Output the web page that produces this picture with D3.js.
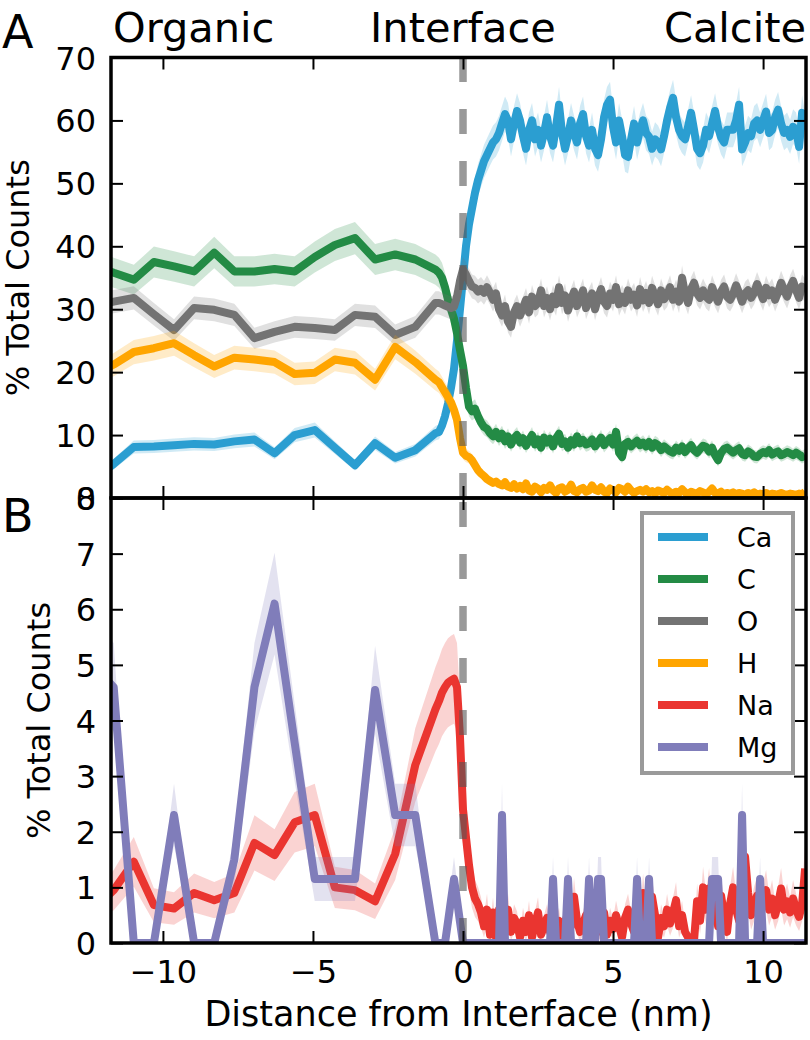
<!DOCTYPE html>
<html><head><meta charset="utf-8">
<script src="https://cdn.jsdelivr.net/npm/d3@7"></script>
<style>
body{margin:0;background:#fff}
svg text{font-family:"DejaVu Sans",sans-serif;fill:#000}
</style>
</head><body>
<svg id="c" width="810" height="1040"></svg>
<script>
// ---------- DATA ----------
const seriesNames = ["Ca", "C", "O", "H", "Na", "Mg"];
const seriesColors = ["#2b9ed1", "#238b45", "#737373", "#ffa500", "#ea3530", "#807dba"];
// relative (Poisson-like) error scale
const errK = [0.36, 0.4, 0.33, 0.4, 0.37, 0.37];

const xTickValues = [-10, -5, 0, 5, 10];
const yTicksA = [0, 10, 20, 30, 40, 50, 60, 70];
const yTicksB = [0, 1, 2, 3, 4, 5, 6, 7, 8];
const topLabels = ["Organic", "Interface", "Calcite"];

// coarse sampling on the organic side (nm)
const coarseX = [-12.31, -11.64, -10.97, -10.30, -9.63, -8.96, -8.29, -7.62, -6.95, -6.28, -5.61, -4.94, -4.27, -3.60, -2.93, -2.26, -1.59, -0.92];
// fine sampling grid from -0.8 to 11.4 nm, step 0.1
const fineX = d3.range(123).map(i => +(-0.8 + 0.1 * i).toFixed(1));

const caCoarse = [3.0, 5.4, 8.1, 8.2, 8.4, 8.6, 8.5, 9.0, 9.3, 7.1, 10.0, 10.8, 8.0, 5.2, 8.7, 6.4, 7.6, 10.3];
const cCoarse  = [37.0, 35.8, 34.7, 37.5, 36.8, 36.0, 39.0, 36.0, 36.0, 36.4, 36.0, 38.3, 40.2, 41.3, 37.9, 38.7, 37.9, 36.3];
const oCoarse  = [30.5, 31.2, 31.8, 29.2, 26.7, 30.2, 29.9, 29.1, 25.4, 26.4, 27.2, 27.0, 26.7, 29.1, 28.8, 25.9, 27.2, 31.0];
const hCoarse  = [19.5, 21.2, 23.2, 23.8, 24.6, 22.7, 20.9, 22.3, 22.0, 21.6, 19.7, 19.9, 22.0, 21.5, 18.8, 24.0, 21.6, 18.8];
const naCoarse = [0.6, 0.95, 1.46, 0.68, 0.62, 0.9, 0.77, 0.9, 1.8, 1.58, 2.17, 2.3, 1.0, 0.95, 0.75, 1.6, 3.2, 4.2];
const mgCoarse = [5.0, 4.6, 0, 0, 2.3, 0, 0, 1.5, 4.6, 6.1, 3.6, 1.15, 1.15, 1.15, 4.55, 2.3, 2.3, 0];

const caFine = [10.5, 11.5, 13, 15, 17.5, 20.5, 25, 30,
 35, 40, 43.5, 46, 48.5, 50.5, 52, 53.5, 54.5, 55.5,
 56.5, 57, 58, 59.5, 61, 60, 57, 59.5, 61.5, 60,
 57.5, 55.5, 58.5, 60, 57, 58.5, 56, 58, 60.5, 57.5,
 56, 59, 62.5, 58, 55.5, 57.5, 60, 58, 56.5, 59.5,
 61, 57.5, 56, 58.5, 55.5, 54.5, 57, 60.5, 62.5, 63.3,
 59, 56.5, 60, 57.5, 54.5, 54.2, 57, 59.5, 56.5, 58.5,
 60, 58, 57.4, 55.5, 57, 56.5, 55.4, 57.5, 60, 62,
 63.6, 60.5, 58.5, 57.5, 57, 59, 61.2, 58.5, 55.5, 54.8,
 56, 58.5, 57.5, 59.5, 61.5, 58.9, 57.3, 56.5, 58.5, 58.5,
 58.5, 60, 62.5, 55.4, 56.5, 58, 57.5, 59.5, 60, 58.5,
 60, 61.4, 58, 58.5, 60.5, 61.7, 59.5, 58, 58.5, 57.4,
 59, 58.5, 55.8, 61.2, 58.5];
const cFine = [35.8, 35, 33.5, 31.5, 30, 28.5, 26.2, 23.5,
 21, 17.5, 14.5, 13.8, 14.2, 13, 12, 11.3, 11, 10.3,
 9.8, 10.5, 9.5, 10.2, 9, 9.8, 8.5, 9.5, 10, 8.8,
 9.5, 8.3, 9.2, 10, 8.5, 9.3, 8, 9.6, 8.8, 9.4,
 8.2, 9.5, 10.2, 8.6, 9, 8, 9.2, 8.5, 9.8, 8.7,
 9.2, 8.5, 8.7, 9.3, 8.2, 8.8, 9.6, 8.4, 9, 9.5,
 8.5, 10.5, 7.2, 6.5, 8.6, 8.9, 8.2, 8.7, 9.1, 8.4,
 8.8, 8.2, 8.9, 8, 8.7, 8.4, 7.6, 8.2, 7.8, 7.4,
 7.2, 8, 7.5, 8.2, 7.3, 7.9, 8.4, 7.6, 7.2, 7.8,
 8.3, 8.1, 7.4, 8, 6.8, 6, 7.2, 7.8, 8, 7.6,
 7.2, 7.6, 7.9, 7, 6.8, 7.4, 7.1, 6.6, 6.5, 7,
 7.3, 7.1, 7.6, 6.9, 7.2, 7.4, 6.8, 7, 7.3, 7.1,
 6.8, 7.2, 6.9, 6.5, 6.8];
const oFine = [31.0, 30.8, 30.6, 30.4, 30.2, 30.4, 32, 34.5,
 36.3, 35.5, 34.5, 33.6, 33.4, 32.8, 33.2, 32.6, 33.5, 32.6,
 31.5, 32.5, 30, 29, 30.5, 28, 27.2, 29.5, 30.5, 29,
 30.2, 31.5, 29.5, 32, 30.5, 31, 33, 30.5, 31.8, 30,
 32, 30.8, 33.5, 31, 32.2, 29.8, 31.5, 32.8, 30.5, 31.7,
 33, 30.2, 31.5, 32.5, 30, 31.8, 33.2, 31.2, 30.5, 32.5,
 31.5, 33.5, 30.8, 32, 31, 33, 31.5, 32.3, 30.6, 33.2,
 31.4, 32.6, 31, 33.4, 32, 30.8, 33, 31.6, 32.2, 33.5,
 31.5, 32.8, 31.2, 35, 32.4, 31, 33.2, 34.2, 32.5, 31.8,
 33, 32, 31.5, 33.5, 32.2, 31.2, 32.8, 33.6, 32, 31.5,
 32.4, 33.8, 32.6, 31.2, 32.5, 33, 31.8, 32.6, 34, 32.8,
 31.6, 33.4, 32.2, 33, 31.5, 32.7, 34.2, 33, 32, 33.5,
 34.5, 33, 31.8, 33.6, 33];
const hFine = [18.4, 17.6, 16.8, 16, 15.2, 14, 12.4, 9.5,
 7.2, 6.7, 6.5, 6, 5.2, 4.4, 3.9, 3.5, 3.0, 2.7,
 2.4, 2.6, 2.2, 2.0, 2.5, 1.8, 1.6, 2.2, 1.5, 1.9,
 1.4, 2.3, 1.2, 1.0, 1.8, 1.5, 0.9, 1.6, 1.3, 2.0,
 1.2, 0.8, 1.5, 1.7, 1.0, 1.3, 2.1, 1.1, 0.9, 1.4,
 1.6, 1.0, 1.2, 2.0, 1.3, 1.1, 1.7, 1.0, 0.8, 1.5,
 1.2, 0.9, 1.6, 1.4, 1.0, 1.8, 1.2, 0.8, 1.1, 1.3,
 1.0, 1.4, 0.9, 1.1, 0.7, 1.2, 1.0, 0.8, 1.3, 0.9,
 0.7, 1.0, 0.8, 1.4, 0.9, 0.6, 1.0, 0.8, 0.7, 1.1,
 0.9, 0.6, 1.0, 1.5, 0.8, 0.7, 1.0, 0.6, 0.8, 0.7,
 0.9, 0.6, 0.8, 0.7, 0.5, 0.8, 0.6, 0.9, 0.5, 0.7,
 0.6, 0.8, 0.5, 0.7, 0.6, 0.5, 0.8, 0.6, 0.5, 0.7,
 0.6, 0.5, 0.7, 0.6, 1.0];
const naFine = [4.35, 4.5, 4.6, 4.68, 4.72, 4.75, 4.6, 3.7,
 2.4, 1.9, 1.4, 1.0, 0.8, 0.7, 0.55, 0.3, 0.6, 0.15,
 0.55, 0.1, 0.6, 0.15, 0.3, 0.6, 0.2, 0.45, 0.35, 0.1,
 0.4, 0.2, 0.5, 0.1, 0.35, 0.55, 0.15, 0.3, 0.45, 0.2,
 0.5, 0.25, 0.4, 0.1, 0.35, 0.55, 0.3, 0.83, 0.4, 0.2,
 0.35, 0.5, 0.1, 0.77, 0.45, 0.2, 0.3, 0.55, 0.15, 0.4,
 0.25, 0.5, 0.3, 0.1, 0.45, 0.6, 0.35, 0.2, 0.5, 0.3,
 0.9, 0.4, 0.2, 0.83, 0.5, 0.1, 0.45, 0.3, 0.6, 0.35,
 0.55, 0.77, 0.3, 0.5, 0.2, 0.1, 0.0, 0.05, 0.75, 0.4,
 1.0, 0.6, 0.98, 0.4, 0.75, 0.3, 0.85, 0.5, 0.2, 0.7,
 1.0, 0.6, 0.4, 0.8, 1.55, 0.9, 0.5, 0.7, 0.85, 0.6,
 0.75, 0.95, 0.6, 0.8, 0.5, 0.7, 0.98, 0.6, 0.75, 0.55,
 0.8, 0.6, 0.47, 0.7, 1.34];
const mgFine = [0, 0, 0, 0.38, 0.77, 1.15, 0.77, 0.38,
 0, 0, 0, 0, 0, 0, 0, 0, 0, 0,
 0, 0, 0, 2.3, 0, 0, 0, 0, 0, 0,
 0, 0, 0, 0, 0, 0, 0, 0, 0, 0,
 1.15, 0, 0, 0, 0, 1.15, 0, 0, 0, 0,
 0, 0, 1.15, 0, 0, 1.15, 1.15, 0, 0, 0,
 0, 0, 0, 0, 0, 0, 0, 0, 1.15, 0,
 0, 0, 1.15, 0, 0, 0, 0, 0, 0, 0,
 0, 0, 0, 0, 0, 0, 0, 0, 0, 0,
 0, 0, 0, 1.15, 1.15, 1.15, 0, 0, 0, 0,
 0, 0, 0, 2.3, 0, 0, 0, 0, 0, 1.15,
 0, 0, 0, 0, 0, 0, 0, 0, 0, 0,
 0, 0, 0, 0, 0];

// ---------- LAYOUT ----------
const left = 111, right = 806;
const aTop = 57.5, aBot = 498, bTop = 498, bBot = 943;
const x = d3.scaleLinear().domain([-11.73, 11.43]).range([left, right]);
const yA = d3.scaleLinear().domain([0, 70]).range([aBot, aTop]);
const yB = d3.scaleLinear().domain([0, 8]).range([bBot, bTop]);

const svg = d3.select("#c");
svg.append("rect").attr("width", 810).attr("height", 1040).attr("fill", "#fff");
const defs = svg.append("defs");
defs.append("clipPath").attr("id", "clipA").append("rect")
  .attr("x", left).attr("y", aTop).attr("width", right - left).attr("height", aBot - aTop);
defs.append("clipPath").attr("id", "clipB").append("rect")
  .attr("x", left).attr("y", bTop).attr("width", right - left).attr("height", bBot - bTop);

const allX = coarseX.concat(fineX);
const seriesVals = [
  caCoarse.concat(caFine), cCoarse.concat(cFine), oCoarse.concat(oFine),
  hCoarse.concat(hFine), naCoarse.concat(naFine), mgCoarse.concat(mgFine)
];

function drawSeries(g, y, idx) {
  const vs = seriesVals[idx], k = errK[idx], color = seriesColors[idx];
  const data = allX.map((xv, i) => ({ x: xv, v: vs[i], e: k * Math.sqrt(Math.max(vs[i], 0)) }));
  g.append("path").datum(data)
    .attr("d", d3.area().x(d => x(d.x)).y0(d => y(d.v - d.e)).y1(d => y(d.v + d.e)))
    .attr("fill", color).attr("fill-opacity", 0.22);
  g.append("path").datum(data)
    .attr("d", d3.line().x(d => x(d.x)).y(d => y(d.v)))
    .attr("fill", "none").attr("stroke", color).attr("stroke-width", 8)
    .attr("stroke-linejoin", "round");
}

const gA = svg.append("g").attr("clip-path", "url(#clipA)");
[0, 1, 2, 3].forEach(i => drawSeries(gA, yA, i));
const gB = svg.append("g").attr("clip-path", "url(#clipB)");
[4, 5].forEach(i => drawSeries(gB, yB, i));

// interface dashed line (drawn from bottom of each panel upwards)
[[aBot, aTop], [bBot, bTop]].forEach(([y1, y2]) => {
  svg.append("line").attr("x1", x(0)).attr("x2", x(0)).attr("y1", y1).attr("y2", y2)
    .attr("stroke", "#555").attr("stroke-opacity", 0.6).attr("stroke-width", 7.5)
    .attr("stroke-dasharray", "25 27");
});

// ---------- AXES ----------
function styleAxis(g) {
  g.select(".domain").remove();
  g.selectAll(".tick line").attr("stroke", "#000").attr("stroke-width", 2);
  g.selectAll(".tick text").style("font-family", "DejaVu Sans").style("font-size", "32px").attr("fill", "#000");
}
function frame(y, ticks, top, bot, showX) {
  const gl = svg.append("g").attr("transform", `translate(${left},0)`)
    .call(d3.axisLeft(y).tickValues(ticks).tickSize(-12).tickPadding(15).tickFormat(d3.format("d")));
  styleAxis(gl); gl.selectAll(".tick text").attr("dy", "0.36em");
  const gr = svg.append("g").attr("transform", `translate(${right},0)`)
    .call(d3.axisRight(y).tickValues(ticks).tickSize(-12).tickFormat(""));
  styleAxis(gr);
  const gt = svg.append("g").attr("transform", `translate(0,${top})`)
    .call(d3.axisTop(x).tickValues(xTickValues).tickSize(-12).tickFormat(""));
  styleAxis(gt);
  const gb = svg.append("g").attr("transform", `translate(0,${bot})`)
    .call(d3.axisBottom(x).tickValues(xTickValues).tickSize(-12).tickPadding(17)
      .tickFormat(showX ? d3.format("d") : ""));
  styleAxis(gb);
  svg.append("rect").attr("x", left).attr("y", top).attr("width", right - left).attr("height", bot - top)
    .attr("fill", "none").attr("stroke", "#000").attr("stroke-width", 3.5);
}
frame(yA, yTicksA, aTop, aBot, false);
frame(yB, yTicksB, bTop, bBot, true);

// axis labels
svg.append("text").attr("transform", `translate(29,${(aTop + aBot) / 2}) rotate(-90)`)
  .attr("text-anchor", "middle").style("font-size", "32px").text("% Total Counts");
svg.append("text").attr("transform", `translate(50,${(bTop + bBot) / 2}) rotate(-90)`)
  .attr("text-anchor", "middle").style("font-size", "32px").text("% Total Counts");
svg.append("text").attr("x", (left + right) / 2).attr("y", 1026)
  .attr("text-anchor", "middle").style("font-size", "35px").text("Distance from Interface (nm)");

// panel letters
svg.append("text").attr("x", 2).attr("y", 48).style("font-size", "46px").text("A");
svg.append("text").attr("x", 2).attr("y", 532).style("font-size", "46px").text("B");

// region labels
svg.append("text").attr("x", left + 2).attr("y", 42).attr("text-anchor", "start").style("font-size", "41.5px").text(topLabels[0]);
svg.append("text").attr("x", x(0)).attr("y", 42).attr("text-anchor", "middle").style("font-size", "41.5px").text(topLabels[1]);
svg.append("text").attr("x", right).attr("y", 42).attr("text-anchor", "end").style("font-size", "41.5px").text(topLabels[2]);

// ---------- LEGEND ----------
const lg = svg.append("g");
lg.append("rect").attr("x", 642).attr("y", 513).attr("width", 151).attr("height", 260)
  .attr("fill", "#fff").attr("stroke", "#9a9a9a").attr("stroke-width", 4);
seriesNames.forEach((name, i) => {
  const yy = 537 + i * 42;
  lg.append("line").attr("x1", 658).attr("x2", 708).attr("y1", yy).attr("y2", yy)
    .attr("stroke", seriesColors[i]).attr("stroke-width", 8);
  lg.append("text").attr("x", 737).attr("y", yy + 10).style("font-size", "27px").text(name);
});
</script>
</body></html>
